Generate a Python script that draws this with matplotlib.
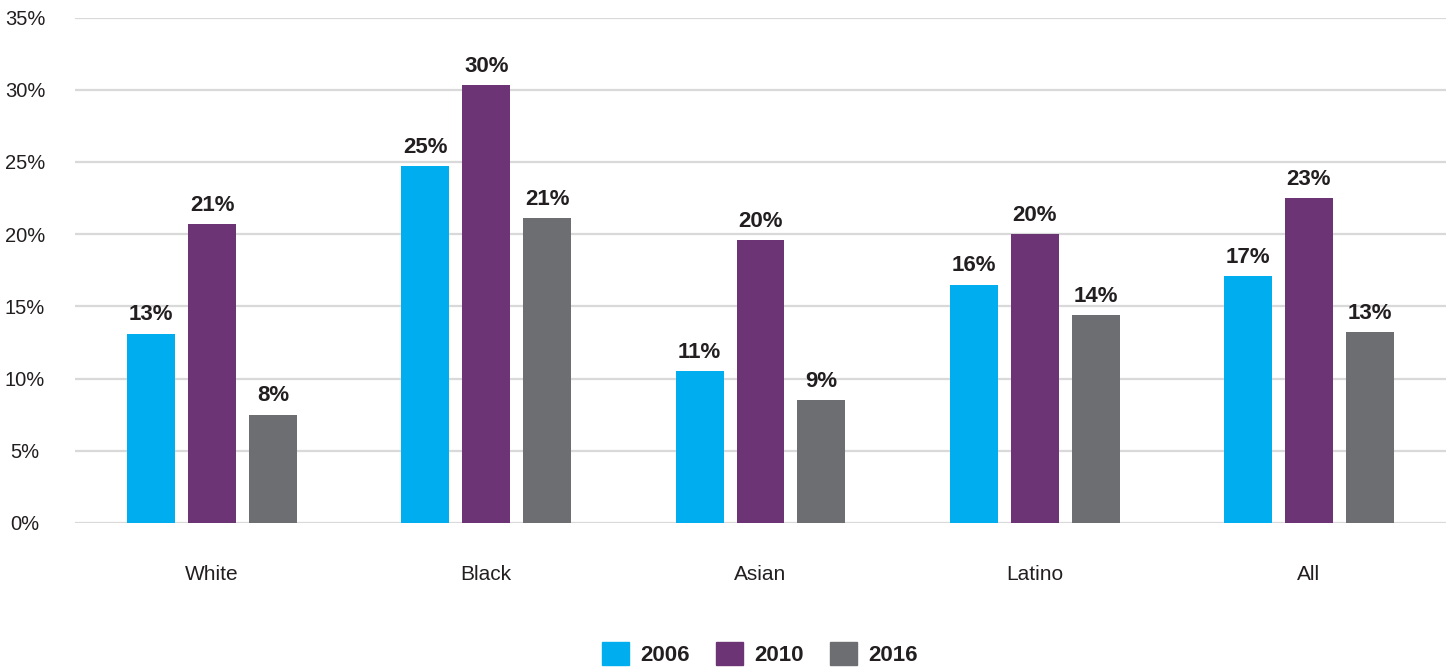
import numpy as np
from matplotlib import pyplot as plt
from matplotlib.patches import Patch

categories = ["White", "Black", "Asian", "Latino", "All"]
years = ["2006", "2010", "2016"]
values_2006 = [13.1, 24.7, 10.5, 16.5, 17.1]
values_2010 = [20.7, 30.3, 19.6, 20.0, 22.5]
values_2016 = [7.5, 21.1, 8.5, 14.4, 13.2]
labels_2006 = ["13%", "25%", "11%", "16%", "17%"]
labels_2010 = ["21%", "30%", "20%", "20%", "23%"]
labels_2016 = ["8%", "21%", "9%", "14%", "13%"]
yticks = [0, 5, 10, 15, 20, 25, 30, 35]
colors = ["#00AEEF", "#6C3475", "#6D6E71"]

if __name__ == '__main__':
    plt.rcParams['font.family'] = ['Liberation Sans Narrow', 'Liberation Sans', 'DejaVu Sans']
    fig = plt.figure(figsize=(14.46, 6.71), dpi=100)
    ax = fig.add_axes([75 / 1446, 148 / 671, 1 - 75 / 1446, (523 - 17.5) / 671])

    x = np.arange(len(categories))
    width = 0.175
    step = 0.222
    series = [values_2006, values_2010, values_2016]
    labels = [labels_2006, labels_2010, labels_2016]
    for i, (vals, labs) in enumerate(zip(series, labels)):
        pos = x + (i - 1) * step
        bars = ax.bar(pos, vals, width, color=colors[i], zorder=3)
        for b, lab in zip(bars, labs):
            ax.annotate(lab, (b.get_x() + b.get_width() / 2, b.get_height()),
                        xytext=(0, 6), textcoords="offset points",
                        ha="center", va="bottom", fontsize=16,
                        fontweight="bold", color="#231F20")

    ax.set_xlim(-0.5, len(categories) - 0.5)
    ax.set_ylim(0, 35)
    ax.set_yticks(yticks)
    ax.set_yticklabels([f"{t}%" for t in yticks])
    ax.set_xticks(x)
    ax.set_xticklabels(categories)
    ax.tick_params(axis="y", length=0, pad=36, labelsize=14.5, labelcolor="#231F20")
    for t in ax.get_yticklabels():
        t.set_horizontalalignment("center")
    ax.tick_params(axis="x", length=0, pad=30, labelsize=15, labelcolor="#231F20")
    ax.grid(axis="y", color="#D9D9D9", linewidth=1.6, zorder=0)
    for s in ax.spines.values():
        s.set_visible(False)

    handles = [Patch(color=c, label=y) for c, y in zip(colors, years)]
    leg = fig.legend(handles=handles, loc="lower center", ncol=3, frameon=False,
                     bbox_to_anchor=(760 / 1446, -0.022), fontsize=16,
                     handlelength=1.2, handleheight=1.2, handletextpad=0.5,
                     columnspacing=1.2)
    for t in leg.get_texts():
        t.set_fontweight("bold")
        t.set_color("#231F20")

    plt.savefig("out.png", dpi=100)
